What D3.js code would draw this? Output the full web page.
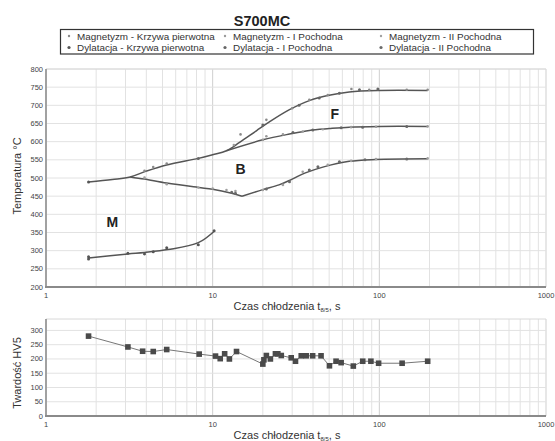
<!DOCTYPE html>
<html lang="pl">
<head>
<meta charset="utf-8">
<title>S700MC</title>
<script src="https://cdn.jsdelivr.net/npm/d3@7"></script>
<style>
  body { margin: 0; background: #fff; }
  text { font-family: "Liberation Sans", Arial, sans-serif; fill: #222; }
  .tick { font-size: 7.5px; fill: #444; }
</style>
</head>
<body>
<script>

var W = 555, H = 441;

// --- dane: linie przemian (t8/5 [s], temperatura [C]) ---
var lineFerrite = [[1.8, 489], [2.5, 496], [3.2, 503], [4, 519], [5.3, 536], [8.2, 554], [10, 564], [12.1, 575], [14.5, 598], [18.3, 630], [22, 655], [28.9, 688], [38, 713], [49, 727], [66, 737], [100, 741], [195, 741]];
var linePearlite = [[12.1, 575], [20, 605], [28.9, 621], [38, 631], [50, 636], [66, 640], [100, 642], [195, 642]];
var lineBainiteDown = [[3.2, 503], [3.9, 497], [5.3, 486], [8.2, 474], [10, 469], [13, 458], [15, 450]];
var lineBainiteUp = [[15, 450], [20, 468], [25, 481], [30, 497], [36, 514], [45.8, 530], [66, 546], [95, 551], [195, 553]];
var lineMartensite = [[1.8, 280], [3.1, 291], [3.9, 295], [5.4, 303], [8.2, 322], [10.3, 355]];

// --- dane: punkty pomiarowe ---
var magRaw = [[3.9, 520], [4.4, 530], [5.3, 540], [14.7, 620], [21, 660], [30, 692], [38, 715], [49, 728], [68, 745], [87, 743], [146, 743], [195, 743]];
var magD1 = [[13.4, 591], [20, 605], [21, 615], [26.4, 620], [34.7, 628], [45.8, 634], [67.7, 640], [95.5, 641], [195, 642]];
var magD2 = [[3.9, 501], [5.3, 483], [8.2, 474], [10, 471], [12.1, 467], [13.7, 464], [20, 467], [26.4, 481], [34.7, 517], [49, 536], [67.7, 547], [95.5, 552], [195, 554]];
var dilRaw = [[1.8, 489], [1.8, 283], [1.8, 277], [3.1, 293], [3.9, 291], [4.4, 297], [5.3, 308], [8.2, 316], [10.2, 355]];
var dilD1 = [[8.2, 554], [20, 646], [33, 700], [43.6, 720], [57.6, 733], [76, 743], [98, 745], [30.3, 625], [39.9, 632], [59, 638], [79.4, 640], [146, 642]];
var dilD2 = [[13, 461], [13.7, 458], [21, 470], [28.9, 490], [38, 522], [42.8, 531], [57.6, 545], [82, 550], [146, 552]];

var seriesNames = ["Magnetyzm - Krzywa pierwotna", "Magnetyzm - I Pochodna", "Magnetyzm - II Pochodna",
                   "Dylatacja - Krzywa pierwotna", "Dylatacja - I Pochodna", "Dylatacja - II Pochodna"];
var seriesData = [magRaw, magD1, magD2, dilRaw, dilD1, dilD2];
var seriesColor = ["#8a8a8a", "#9a9a9a", "#a0a0a0", "#555", "#666", "#6a6a6a"];

var phaseLabels = [["M", 2.5, 365], ["B", 14.7, 511], ["F", 54, 662]];

// --- dane: twardosc ---
var hvTime = [1.8, 3.1, 3.8, 4.4, 5.3, 8.3, 10.4, 11.1, 11.8, 12.6, 13.9, 20, 20.3, 21, 22.2, 23.8, 24.6, 25.8, 29.6, 31.4, 34, 36.4, 39.8, 44.7, 50.2, 55, 59, 69.8, 79.5, 89, 99, 137, 195];
var hvValue = [280, 242, 227, 226, 233, 217, 210, 201, 218, 200, 226, 182, 197, 212, 200, 218, 218, 212, 204, 192, 211, 211, 211, 211, 176, 192, 187, 175, 192, 192, 185, 185, 192];

var xTicks = [1, 10, 100, 1000];
var tempTicks = d3.range(200, 801, 50);
var hvTicks = d3.range(0, 301, 50);

var svg = d3.select("body").append("svg")
    .attr("width", W).attr("height", H);

var x = d3.scaleLog().domain([1, 1000]).range([46, 546]);
var yT = d3.scaleLinear().domain([200, 800]).range([287, 69]);
var yH = d3.scaleLinear().domain([0, 340]).range([416, 319]);

var minorX = [];
[1, 10, 100].forEach(function(d) {
    for (var k = 1; k <= 9; k++) minorX.push(d * k);
});
minorX.push(1000);

function frame(y, yTicks, yTop) {
    var g = svg.append("g");
    var y0 = y.range()[0];
    g.selectAll("line.vg").data(minorX).enter().append("line")
        .attr("x1", function(d) { return x(d); }).attr("x2", function(d) { return x(d); })
        .attr("y1", yTop).attr("y2", y0)
        .attr("stroke", function(d) { return xTicks.indexOf(d) >= 0 ? "#cfcfcf" : "#e2e2e2"; })
        .attr("stroke-width", 1);
    g.selectAll("line.hg").data(yTicks).enter().append("line")
        .attr("x1", x(1)).attr("x2", x(1000))
        .attr("y1", function(d) { return y(d); }).attr("y2", function(d) { return y(d); })
        .attr("stroke", "#e2e2e2");
    g.append("line").attr("x1", x(1)).attr("x2", x(1000)).attr("y1", yTop).attr("y2", yTop).attr("stroke", "#d8d8d8");
    g.append("line").attr("x1", x(1)).attr("x2", x(1)).attr("y1", yTop).attr("y2", y0).attr("stroke", "#8a8a8a").attr("stroke-width", 1.5);
    g.append("line").attr("x1", x(1) - 1).attr("x2", x(1000)).attr("y1", y0).attr("y2", y0).attr("stroke", "#8a8a8a").attr("stroke-width", 2);
    g.selectAll("text.yt").data(yTicks).enter().append("text")
        .attr("class", "tick").attr("x", x(1) - 3).attr("y", function(d) { return y(d) + 2.5; })
        .attr("text-anchor", "end").text(function(d) { return d; });
    g.selectAll("text.xt").data(xTicks).enter().append("text")
        .attr("class", "tick").attr("x", function(d) { return x(d); }).attr("y", y0 + 11)
        .attr("text-anchor", "middle").text(function(d) { return d; });
    return g;
}

function xTitle(yPos) {
    var t = svg.append("text").attr("x", 287).attr("y", yPos)
        .attr("text-anchor", "middle").style("font-size", "11px").style("fill", "#333");
    t.append("tspan").text("Czas chłodzenia t");
    t.append("tspan").attr("dy", 2).style("font-size", "6px").text("8/5");
    t.append("tspan").attr("dy", -2).text(", s");
}

function yTitle(label, cy) {
    svg.append("text").attr("transform", "translate(21," + cy + ") rotate(-90)")
        .attr("text-anchor", "middle").style("font-size", "11px").style("fill", "#333")
        .text(label);
}

// --- tytul i legenda ---
svg.append("text").attr("x", 262).attr("y", 26).attr("text-anchor", "middle")
    .style("font-size", "14.5px").style("font-weight", "bold").text("S700MC");

svg.append("rect").attr("x", 60.5).attr("y", 29.5).attr("width", 473).attr("height", 24.5)
    .attr("fill", "#fff").attr("stroke", "#333").attr("stroke-width", 1.2);

var legX = [69, 225, 381];
var leg = svg.selectAll("g.leg").data(seriesNames).enter().append("g")
    .attr("transform", function(d, i) { return "translate(" + legX[i % 3] + "," + (i < 3 ? 36 : 47.5) + ")"; });
leg.append("circle").attr("r", function(d, i) { return i < 3 ? 1.2 : 1.6; })
    .attr("fill", function(d, i) { return seriesColor[i]; });
leg.append("text").attr("x", 8).attr("y", 3.5).style("font-size", "9.9px").style("fill", "#333")
    .text(function(d) { return d; });

// --- wykres temperatury ---
frame(yT, tempTicks, 69);
yTitle("Temperatura °C", 176);
xTitle(310);

var line = d3.line().x(function(d) { return x(d[0]); }).y(function(d) { return yT(d[1]); })
    .curve(d3.curveCatmullRom.alpha(0.5));
[lineFerrite, linePearlite, lineBainiteDown, lineBainiteUp, lineMartensite].forEach(function(l) {
    svg.append("path").datum(l).attr("d", line)
        .attr("fill", "none").attr("stroke", "#555").attr("stroke-width", 1.5);
});

seriesData.forEach(function(s, i) {
    svg.selectAll(null).data(s).enter().append("circle")
        .attr("cx", function(d) { return x(d[0]); })
        .attr("cy", function(d) { return yT(d[1]); })
        .attr("r", i < 3 ? 1.3 : 1.5)
        .attr("fill", seriesColor[i]);
});

svg.selectAll("text.phase").data(phaseLabels).enter().append("text")
    .attr("x", function(d) { return x(d[1]); }).attr("y", function(d) { return yT(d[2]); })
    .attr("text-anchor", "middle").style("font-size", "14px").style("font-weight", "bold")
    .text(function(d) { return d[0]; });

// --- wykres twardosci ---
frame(yH, hvTicks, 319);
yTitle("Twardość HV5", 373);
xTitle(439);

var hv = hvTime.map(function(t, i) { return [t, hvValue[i]]; });
svg.append("path").datum(hv)
    .attr("d", d3.line().x(function(d) { return x(d[0]); }).y(function(d) { return yH(d[1]); }))
    .attr("fill", "none").attr("stroke", "#777").attr("stroke-width", 1);
svg.selectAll("rect.hv").data(hv).enter().append("rect")
    .attr("x", function(d) { return x(d[0]) - 2.8; })
    .attr("y", function(d) { return yH(d[1]) - 2.8; })
    .attr("width", 5.6).attr("height", 5.6)
    .attr("fill", "#4a4a4a");

</script>
</body>
</html>
